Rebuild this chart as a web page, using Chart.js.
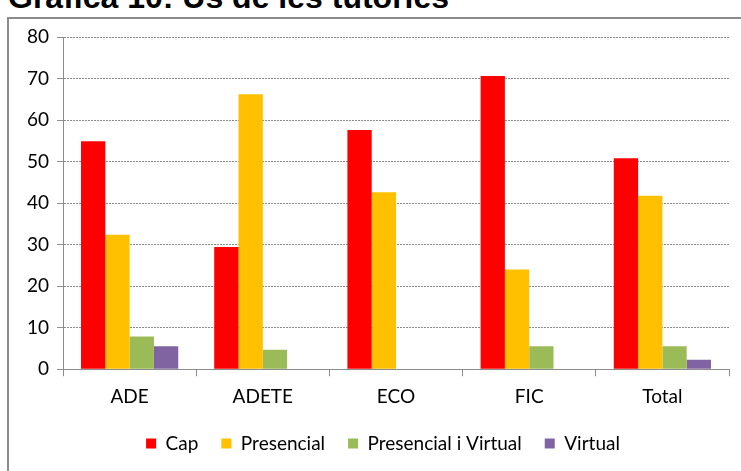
<!DOCTYPE html>
<html>
<head>
<meta charset="utf-8">
<script src="https://cdn.jsdelivr.net/npm/chart.js@4"></script>
<style>
  html, body { margin: 0; padding: 0; background: #fff; overflow: hidden; }
  #wrap { position: relative; width: 741px; height: 471px; }
  #title {
    position: absolute; left: 8px; top: -21px; margin: 0;
    font-family: "Liberation Sans", Arial, sans-serif; font-weight: bold;
    font-size: 32px; color: #000; white-space: nowrap;
  }
  #frame {
    position: absolute; left: 7px; top: 17px; width: 760px; height: 480px;
    border: 2px solid #8c8c8c; box-sizing: border-box;
  }
  canvas { position: absolute; left: 0; top: 0; }
</style>
</head>
<body>
<div id="wrap">
  <div id="title">Gràfica 10: Ús de les tutories</div>
  <div id="frame"></div>
  <canvas id="chart" width="741" height="471"></canvas>
</div>
<script>
// Data
const categories = ['ADE', 'ADETE', 'ECO', 'FIC', 'Total'];
const cap = [54.9, 29.4, 57.6, 70.6, 50.8];
const presencial = [32.4, 66.2, 42.6, 24.0, 41.8];
const presencialVirtual = [7.9, 4.7, 0, 5.5, 5.5];
const virtual = [5.5, 0, 0, 0, 2.3];
const yTicks = [0, 10, 20, 30, 40, 50, 60, 70, 80];

const font = { family: 'Lato, "Open Sans", sans-serif', size: 19 };

// move the legend a bit up and right, the horizontal gap is kept
const legendNudge = {
    id: 'legendNudge',
    afterLayout(chart) {
        const l = chart.legend;
        l.top -= 6; l.bottom -= 6;
        l.left += 9; l.right += 9;
    }
};

const ctx = document.getElementById('chart').getContext('2d');
new Chart(ctx, {
    type: 'bar',
    data: {
        labels: categories,
        datasets: [
            { label: 'Cap', data: cap, backgroundColor: '#ff0000' },
            { label: 'Presencial', data: presencial, backgroundColor: '#ffc000' },
            { label: 'Presencial i Virtual', data: presencialVirtual, backgroundColor: '#9bbb59' },
            { label: 'Virtual', data: virtual, backgroundColor: '#8064a2' }
        ]
    },
    plugins: [legendNudge],
    options: {
        responsive: false,
        animation: false,
        layout: { padding: { left: 19, right: 12, top: 37, bottom: 2 } },
        datasets: { bar: { categoryPercentage: 0.73, barPercentage: 1.0 } },
        plugins: {
            title: { display: false },
            tooltip: { enabled: false },
            legend: {
                position: 'bottom',
                labels: {
                    font: font, color: '#000',
                    boxWidth: 10, boxHeight: 10, padding: 23
                }
            }
        },
        scales: {
            x: {
                grid: {
                    drawOnChartArea: false, drawTicks: true, tickLength: 7,
                    color: '#8c8c8c', offset: true
                },
                border: { color: '#8c8c8c', width: 1 },
                ticks: { font: font, color: '#000', padding: 9 }
            },
            y: {
                min: 0, max: 80,
                afterBuildTicks: axis => { axis.ticks = yTicks.map(v => ({ value: v })); },
                grid: {
                    color: '#8a8a8a',
                    tickLength: 6, tickColor: '#8c8c8c', tickBorderDash: [1, 0],
                    drawTicks: true
                },
                border: { color: '#8c8c8c', width: 1, dash: [2, 1] },
                ticks: { font: font, color: '#000', padding: 8 }
            }
        }
    }
});
</script>
</body>
</html>
